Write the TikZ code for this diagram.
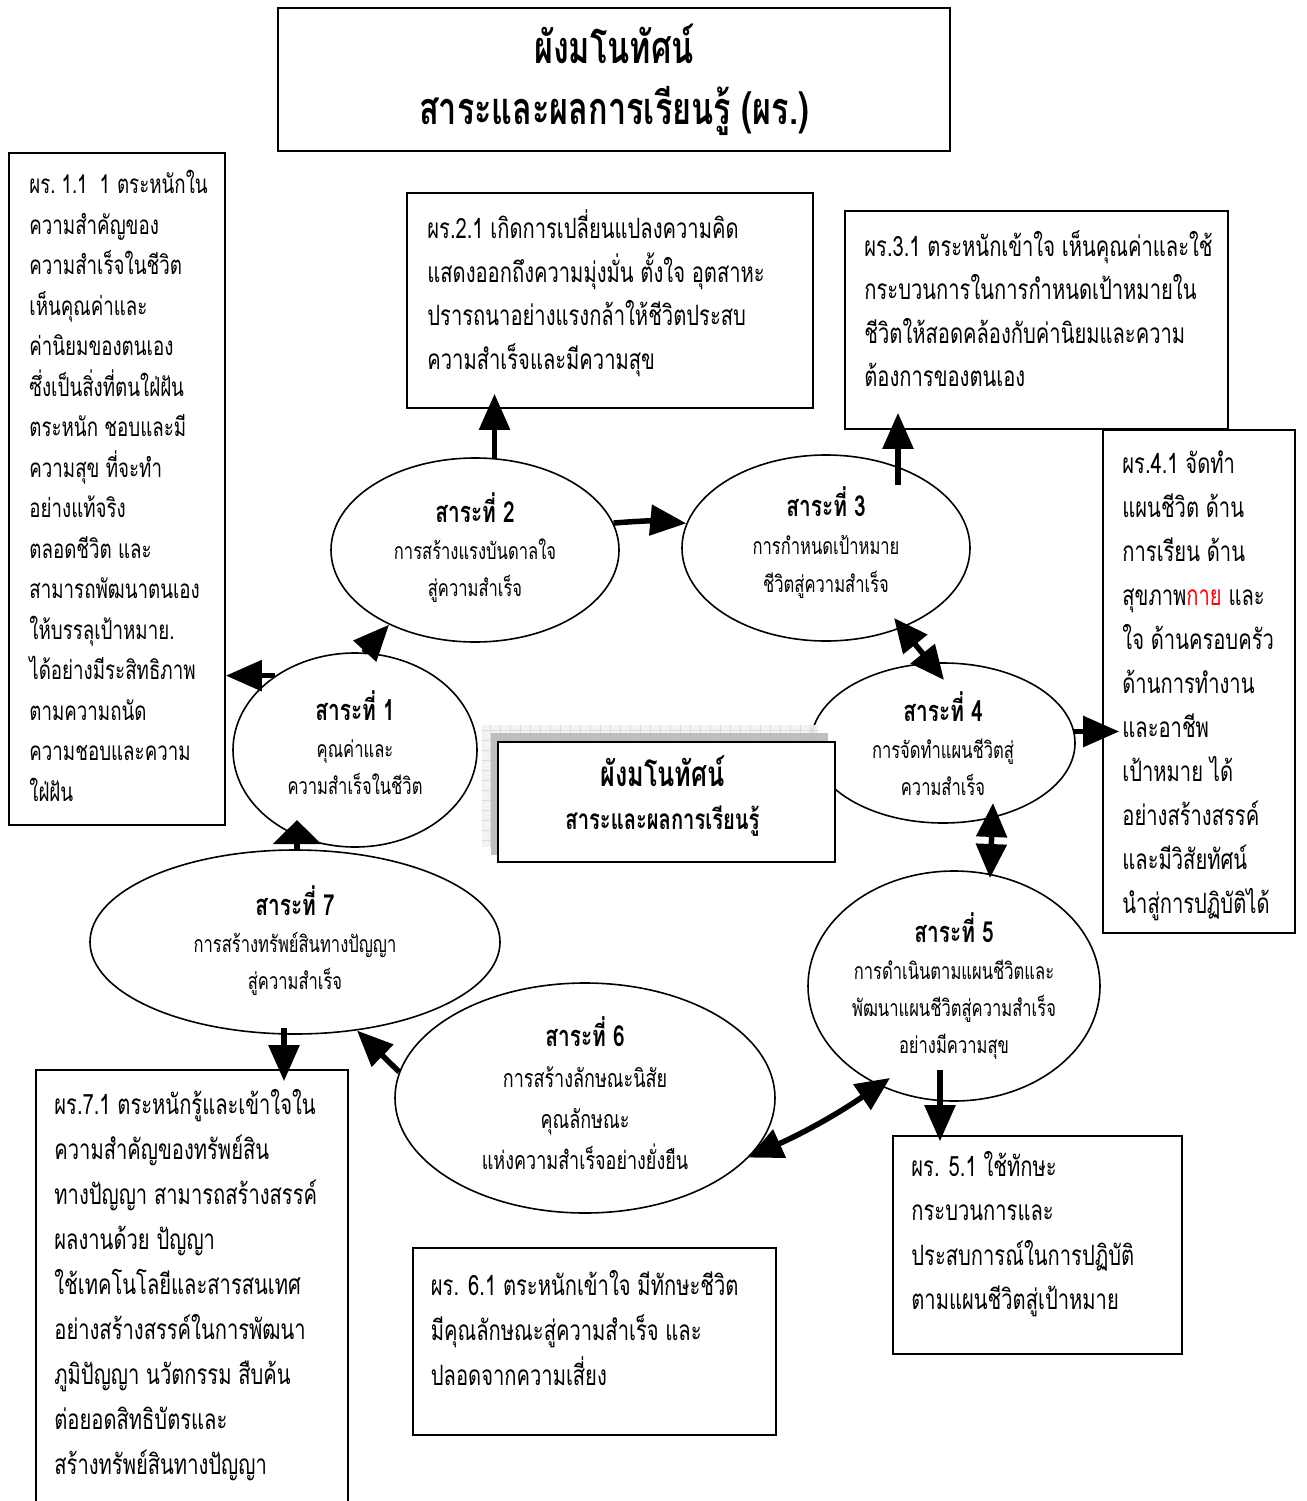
\documentclass[tikz,border=0pt]{standalone}
\usepackage{fontspec}
\setmainfont{Liberation Sans}
\newfontfamily\thai[Script=Thai, FakeStretch=0.72]{Loma}
\usetikzlibrary{arrows.meta,shapes.geometric,calc}
\tikzset{
  box/.style={draw, line width=1.6pt, fill=white, rectangle, inner sep=0pt},
  ell/.style={draw, line width=1.6pt, fill=white, ellipse, inner sep=0pt},
  btxt/.style={anchor=north west, inner sep=0pt, align=left},
  etxt/.style={align=center, inner sep=0pt},
  arr/.style={line width=5.5pt, -{Triangle[length=36pt,width=30pt]}},
  darr/.style={line width=5.5pt, {Triangle[length=34pt,width=30pt]}-{Triangle[length=34pt,width=30pt]}},
}
\newcommand{\etitle}[1]{{\bfseries\fontsize{29}{37}\selectfont #1}}
\begin{document}
\begin{tikzpicture}[x=1pt,y=-1pt]
\clip (0,0) rectangle (1306,1501);
\fill[white] (0,0) rectangle (1306,1501);

% ellipses
\node[ell, minimum width=244, minimum height=194] (e1) at (355,750) {};
\node[ell, minimum width=288, minimum height=184] (e2) at (475,550) {};
\node[ell, minimum width=288, minimum height=186] (e3) at (826,548) {};
\node[ell, minimum width=264, minimum height=160] (e4) at (943,743) {};
\node[ell, minimum width=292, minimum height=230] (e5) at (954,986) {};
\node[ell, minimum width=380, minimum height=230] (e6) at (585,1098) {};
\node[ell, minimum width=410, minimum height=184] (e7) at (295,942) {};

% shadow of the centre box
\node[fill=gray!10, opacity=0.9, minimum width=336, minimum height=122, inner sep=0pt] (shL) at (650,786) {};
\draw[step=10pt, gray!28, line width=0.4pt] (shL.south west) grid (shL.north east);
\node[fill=gray!55, opacity=0.9, minimum width=337, minimum height=122, inner sep=0pt] (shD) at (659.5,794) {};
\node[box, line width=2pt, minimum width=337, minimum height=120] (cbox) at (666.5,802) {};

% boxes
\node[box, line width=2pt, minimum width=672, minimum height=143] (title) at (614,79.5) {};
\node[box, minimum width=216, minimum height=672] (b11) at (117,489) {};
\node[box, minimum width=406, minimum height=215] (b21) at (610,300.5) {};
\node[box, minimum width=383, minimum height=218] (b31) at (1036.5,320) {};
\node[box, minimum width=192, minimum height=503] (b41) at (1199,681.5) {};
\node[box, minimum width=289, minimum height=218] (b51) at (1037.5,1245) {};
\node[box, line width=2.6pt, minimum width=363, minimum height=187] (b61) at (594.5,1341.5) {};
\node[box, minimum width=312, minimum height=460] (b71) at (192,1300) {};

% arrow end coordinates
\coordinate (s3) at ($(e3.center)+(72,-63)$);
\coordinate (s6a) at ($(e3.center)+(68,70)$);
\coordinate (s6b) at ($(e4.center)+(1,-63)$);
\coordinate (s8a) at ($(e4.center)+(50,60)$);
\coordinate (s8b) at ($(e5.center)+(36,-108)$);
\coordinate (s9) at ($(e5.center)+(-14,84)$);
\coordinate (s10) at ($(e5.center)+(-64,92)$);
\coordinate (s12) at ($(e7.center)+(-11,86)$);
\coordinate (s13) at ($(e7.north)+(2,0)$);
\coordinate (t13) at ($(e1.center)+(-58,70)$);

% arrows
\draw[arr] (e1.137) -- (e1.137 -| b11.east);
\draw[arr] (e1.85) -- (e2.221);
\draw[arr, shorten >=-15pt] (e2.78) -- (e2.78 |- b21.south);
\draw[arr] (e2.11) to[bend left=5] (e3.170);
\draw[arr, shorten >=-17pt] (s3) -- (s3 |- b31.south);
\draw[darr] (s6a) -- (s6b);
\draw[arr, shorten >=-17pt] (e4.5) -- (e4.5 -| b41.west);
\draw[darr] (s8a) -- (s8b);
\draw[arr, shorten >=-6pt] (s9) -- (s9 |- b51.north);
\draw[darr] (e6.-20) to[bend right=5] (s10);
\draw[arr] (e6.172) -- (e7.-55);
\draw[arr, shorten >=-12pt] (s12) -- (s12 |- b71.north);
\draw[line width=5.5pt, -{Triangle[length=24pt,width=47pt]}] (s13) -- (s13 |- t13);

% texts
\node[etxt, font=\thai\fontsize{45}{61}\selectfont\bfseries] (ttitle) at (title.center) {ผังมโนทัศน์\\สาระและผลการเรียนรู้ (ผร.)};
\node[etxt, font=\thai\bfseries\fontsize{28}{43}\selectfont] (tc) at ($(cbox.center)+(-4,-6)$) {{\fontsize{35}{43}\selectfont ผังมโนทัศน์}\\สาระและผลการเรียนรู้};

\node[etxt, font=\thai\fontsize{23}{37}\selectfont] (te1) at ($(e1.center)+(0,-7)$) {\etitle{สาระที่ 1}\\คุณค่าและ\\ความสำเร็จในชีวิต};
\node[etxt, font=\thai\fontsize{23}{37}\selectfont] (te2) at ($(e2.center)+(0,-2)$) {\etitle{สาระที่ 2}\\การสร้างแรงบันดาลใจ\\สู่ความสำเร็จ};
\node[etxt, font=\thai\fontsize{23}{38}\selectfont] (te3) at ($(e3.center)+(0,-5)$) {\etitle{สาระที่ 3}\\การกำหนดเป้าหมาย\\ชีวิตสู่ความสำเร็จ};
\node[etxt, font=\thai\fontsize{23}{37}\selectfont] (te4) at ($(e4.center)+(0,1)$) {\etitle{สาระที่ 4}\\การจัดทำแผนชีวิตสู่\\ความสำเร็จ};
\node[etxt, font=\thai\fontsize{23}{37}\selectfont] (te5) at (e5.center) {\etitle{สาระที่ 5}\\การดำเนินตามแผนชีวิตและ\\พัฒนาแผนชีวิตสู่ความสำเร็จ\\อย่างมีความสุข};
\node[etxt, font=\thai\fontsize{25}{41}\selectfont] (te6) at ($(e6.center)+(0,-5)$) {\etitle{สาระที่ 6}\\การสร้างลักษณะนิสัย\\คุณลักษณะ\\แห่งความสำเร็จอย่างยั่งยืน};
\node[etxt, font=\thai\fontsize{23}{37}\selectfont] (te7) at ($(e7.center)+(0,-1)$) {\etitle{สาระที่ 7}\\การสร้างทรัพย์สินทางปัญญา\\สู่ความสำเร็จ};

\node[btxt, font=\thai\fontsize{26}{40.5}\selectfont] (tb11) at ($(b11.north west)+(21,13)$) {\strut ผร.\hspace{6pt}1.1\hspace{12pt}1\hspace{7pt}ตระหนักใน\\ความสำคัญของ\\ความสำเร็จในชีวิต\\เห็นคุณค่าและ\\ค่านิยมของตนเอง\\ซึ่งเป็นสิ่งที่ตนใฝ่ฝัน\\ตระหนัก ชอบและมี\\ความสุข ที่จะทำ\\อย่างแท้จริง\\ตลอดชีวิต และ\\สามารถพัฒนาตนเอง\\ให้บรรลุเป้าหมาย.\\ได้อย่างมีระสิทธิภาพ\\ตามความถนัด\\ความชอบและความ\\ใฝ่ฝัน};
\node[btxt, font=\thai\fontsize{28}{43.5}\selectfont] (tb21) at ($(b21.north west)+(21,16)$) {\strut ผร.2.1 เกิดการเปลี่ยนแปลงความคิด\\แสดงออกถึงความมุ่งมั่น ตั้งใจ อุตสาหะ\\ปรารถนาอย่างแรงกล้าให้ชีวิตประสบ\\ความสำเร็จและมีความสุข};
\node[btxt, font=\thai\fontsize{28}{43.5}\selectfont] (tb31) at ($(b31.north west)+(20,15.5)$) {\strut ผร.3.1 ตระหนักเข้าใจ เห็นคุณค่าและใช้\\กระบวนการในการกำหนดเป้าหมายใน\\ชีวิตให้สอดคล้องกับค่านิยมและความ\\ต้องการของตนเอง};
\node[btxt, font=\thai\fontsize{28}{44}\selectfont] (tb41) at ($(b41.north west)+(20,13)$) {\strut ผร.4.1 จัดทำ\\แผนชีวิต ด้าน\\การเรียน ด้าน\\สุขภาพ\textcolor{red}{กาย} และ\\ใจ ด้านครอบครัว\\ด้านการทำงาน\\และอาชีพ\\เป้าหมาย ได้\\อย่างสร้างสรรค์\\และมีวิสัยทัศน์\\นำสู่การปฏิบัติได้};
\node[btxt, font=\thai\fontsize{28}{44.3}\selectfont] (tb51) at ($(b51.north west)+(19,10)$) {\strut ผร. 5.1 ใช้ทักษะ\\กระบวนการและ\\ประสบการณ์ในการปฏิบัติ\\ตามแผนชีวิตสู่เป้าหมาย};
\node[btxt, font=\thai\fontsize{28}{45}\selectfont] (tb61) at ($(b61.north west)+(19,17)$) {\strut ผร. 6.1 ตระหนักเข้าใจ มีทักษะชีวิต\\มีคุณลักษณะสู่ความสำเร็จ และ\\ปลอดจากความเสี่ยง};
\node[btxt, font=\thai\fontsize{28}{45}\selectfont] (tb71) at ($(b71.north west)+(19,14)$) {\strut ผร.7.1 ตระหนักรู้และเข้าใจใน\\ความสำคัญของทรัพย์สิน\\ทางปัญญา สามารถสร้างสรรค์\\ผลงานด้วย ปัญญา\\ใช้เทคโนโลยีและสารสนเทศ\\อย่างสร้างสรรค์ในการพัฒนา\\ภูมิปัญญา นวัตกรรม สืบค้น\\ต่อยอดสิทธิบัตรและ\\สร้างทรัพย์สินทางปัญญา};
\end{tikzpicture}
\end{document}
